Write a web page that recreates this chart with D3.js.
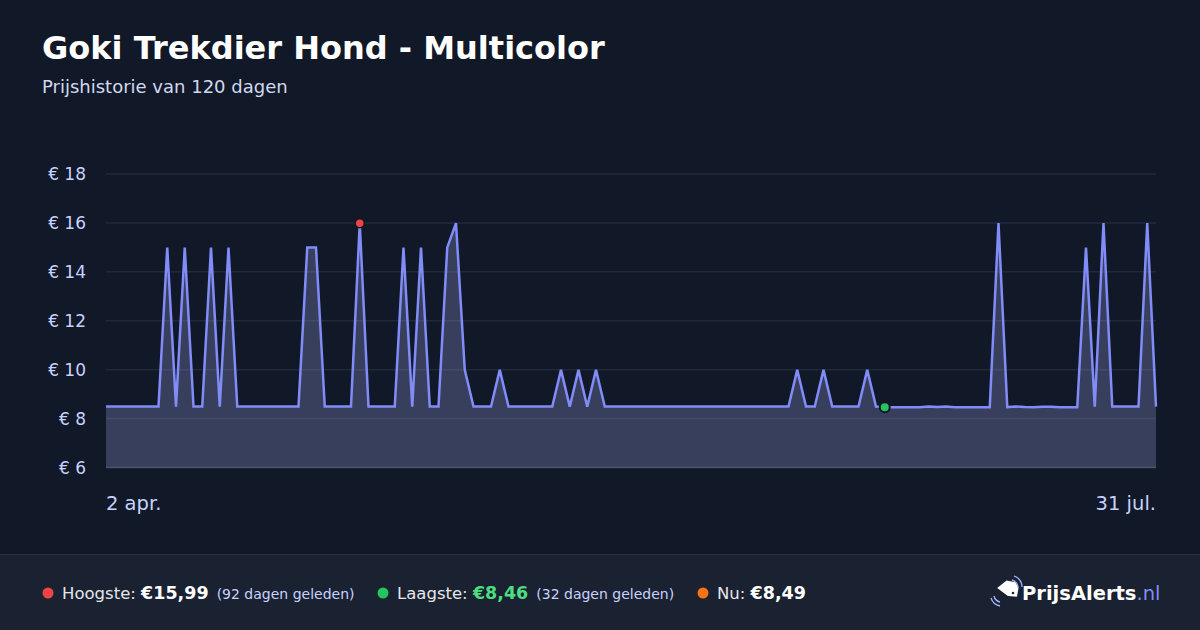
<!DOCTYPE html>
<html><head><meta charset="utf-8">
<script src="https://cdn.jsdelivr.net/npm/d3@7/dist/d3.min.js"></script>
<style>
html,body{margin:0;padding:0;background:#111827;}
svg{display:block;font-family:"DejaVu Sans",sans-serif;}
</style></head><body>
<svg id="c" width="1200" height="630"></svg>
<script>
const title = "Goki Trekdier Hond - Multicolor";
const subtitle = "Prijshistorie van 120 dagen";
const startDate = [2025, 3, 2];
const prices = [
  8.49,8.49,8.49,8.49,8.49,8.49,8.49,14.99,8.49,14.99,
  8.49,8.49,14.99,8.49,14.99,8.49,8.49,8.49,8.49,8.49,
  8.49,8.49,8.49,14.99,14.99,8.49,8.49,8.49,8.49,15.99,
  8.49,8.49,8.49,8.49,14.99,8.49,14.99,8.49,8.49,14.99,
  15.99,9.99,8.49,8.49,8.49,9.99,8.49,8.49,8.49,8.49,
  8.49,8.49,9.99,8.49,9.99,8.49,9.99,8.49,8.49,8.49,
  8.49,8.49,8.49,8.49,8.49,8.49,8.49,8.49,8.49,8.49,
  8.49,8.49,8.49,8.49,8.49,8.49,8.49,8.49,8.49,9.99,
  8.49,8.49,9.99,8.49,8.49,8.49,8.49,9.99,8.49,8.46,
  8.46,8.46,8.46,8.46,8.49,8.47,8.49,8.46,8.46,8.46,
  8.46,8.46,15.99,8.47,8.49,8.47,8.46,8.48,8.48,8.46,
  8.46,8.46,14.99,8.49,15.99,8.49,8.49,8.49,8.49,15.99,
  8.49
];
const yTicks = [6, 8, 10, 12, 14, 16, 18];
const xTickLabels = ["2 apr.", "31 jul."];
const footerItems = [
  {label: "Hoogste: ", value: "€15,99", note: "(92 dagen geleden)", dot: "#ef4444", valueColor: "#ffffff"},
  {label: "Laagste: ", value: "€8,46", note: "(32 dagen geleden)", dot: "#22c55e", valueColor: "#4ade80"},
  {label: "Nu: ", value: "€8,49", note: "", dot: "#f97316", valueColor: "#ffffff"}
];

const svg = d3.select("#c");
const W = 1200, H = 630;
const m = {left: 106, right: 1156, top: 174, bottom: 467.5};

const start = new Date(startDate[0], startDate[1], startDate[2]);
const data = prices.map((p, i) => ({date: d3.timeDay.offset(start, i), price: p}));

const x = d3.scaleTime().domain(d3.extent(data, d => d.date)).range([m.left, m.right]);
const y = d3.scaleLinear().domain([6, 18]).range([m.bottom, m.top]);

// title
svg.append("text").attr("x", 42).attr("y", 59).attr("fill", "#ffffff")
  .attr("font-size", 32).attr("font-weight", "bold").text(title);
svg.append("text").attr("x", 42).attr("y", 93).attr("fill", "#d1d9f0")
  .attr("font-size", 18).text(subtitle);

// grid
const gy = svg.append("g");
gy.selectAll("line").data(yTicks.slice(1)).join("line")
  .attr("x1", m.left).attr("x2", m.right)
  .attr("y1", d => y(d)).attr("y2", d => y(d))
  .attr("stroke", "rgba(148,163,184,0.13)").attr("stroke-width", 1.5);

// area
const area = d3.area().x(d => x(d.date)).y0(y(6)).y1(d => y(d.price));
svg.append("path").datum(data).attr("d", area).attr("fill", "rgba(150,155,215,0.3)");

// baseline
svg.append("line").attr("x1", m.left).attr("x2", m.right).attr("y1", y(6)).attr("y2", y(6))
  .attr("stroke", "rgba(148,163,184,0.35)").attr("stroke-width", 1.5);

// line
const line = d3.line().x(d => x(d.date)).y(d => y(d.price));
svg.append("path").datum(data).attr("d", line).attr("fill", "none")
  .attr("stroke", "#818cf8").attr("stroke-width", 2.5).attr("stroke-linejoin", "miter");

// y labels
const yAxis = d3.axisLeft(y).tickValues(yTicks).tickSize(0).tickFormat(d => "€ " + d);
const ya = svg.append("g").attr("transform", `translate(${m.left - 17},0)`).call(yAxis);
ya.select(".domain").remove();
ya.selectAll("text").attr("fill", "#c7d2fe").attr("font-size", 17)
  .attr("font-family", "DejaVu Sans, sans-serif").attr("dx", 0).attr("dy", "0.35em");

// x labels
const xa = svg.append("g");
xa.append("text").attr("x", x(data[0].date)).attr("y", 510).attr("fill", "#c7d2fe")
  .attr("font-size", 19.5).attr("text-anchor", "start").text(xTickLabels[0]);
xa.append("text").attr("x", x(data[data.length - 1].date)).attr("y", 510).attr("fill", "#c7d2fe")
  .attr("font-size", 19.5).attr("text-anchor", "end").text(xTickLabels[1]);

// markers
const maxI = d3.maxIndex(prices);
const minI = d3.minIndex(prices);
svg.append("circle").attr("cx", x(data[maxI].date)).attr("cy", y(prices[maxI])).attr("r", 4.5)
  .attr("fill", "#ef4444").attr("stroke", "#111827").attr("stroke-width", 1.5);
svg.append("circle").attr("cx", x(data[minI].date)).attr("cy", y(prices[minI])).attr("r", 5)
  .attr("fill", "#22c55e").attr("stroke", "#111827").attr("stroke-width", 2);

// footer
svg.append("rect").attr("x", 0).attr("y", 554).attr("width", W).attr("height", H - 554).attr("fill", "#1a2131");
svg.append("line").attr("x1", 0).attr("x2", W).attr("y1", 554.5).attr("y2", 554.5).attr("stroke", "#27304a").attr("stroke-width", 1);

const fx = [48, 383, 703];
footerItems.forEach((it, k) => {
  const g = svg.append("g");
  g.append("circle").attr("cx", fx[k]).attr("cy", 593).attr("r", 5.5).attr("fill", it.dot);
  const t = g.append("text").attr("x", fx[k] + 14).attr("y", 599).attr("font-size", 16.5);
  t.append("tspan").attr("fill", "#e5e7eb").text(it.label);
  t.append("tspan").attr("fill", it.valueColor).attr("font-weight", "bold").attr("font-size", 17.5).text(it.value);
  if (it.note) t.append("tspan").attr("fill", "#c7d2fe").attr("font-size", 14).attr("dx", 8).text(it.note);
});

// logo
const lg = svg.append("g");
lg.append("path").attr("d", "M997,590 l8,-9 l9,0 l4,5 l0,9 l-9,1 z").attr("fill", "#ffffff")
  .attr("transform", "rotate(10,1008,590)");
lg.append("circle").attr("cx", 1013).attr("cy", 593).attr("r", 1.3).attr("fill", "#1a2131");
lg.append("path").attr("d", "M1012,580 a8,8 0 0 1 6,8").attr("stroke", "#a5b4fc").attr("fill", "none").attr("stroke-width", 1.3);
lg.append("path").attr("d", "M1014,576 a12,12 0 0 1 8,11").attr("stroke", "#a5b4fc").attr("fill", "none").attr("stroke-width", 1.3);
lg.append("path").attr("d", "M994,596 a8,8 0 0 0 6,6").attr("stroke", "#a5b4fc").attr("fill", "none").attr("stroke-width", 1.3);
lg.append("path").attr("d", "M991,598 a12,12 0 0 0 9,8").attr("stroke", "#a5b4fc").attr("fill", "none").attr("stroke-width", 1.3);
const lt = lg.append("text").attr("x", 1022).attr("y", 600).attr("font-size", 19.5);
lt.append("tspan").attr("fill", "#ffffff").attr("font-weight", "bold").text("PrijsAlerts");
lt.append("tspan").attr("fill", "#818cf8").text(".nl");
</script>
</body></html>
